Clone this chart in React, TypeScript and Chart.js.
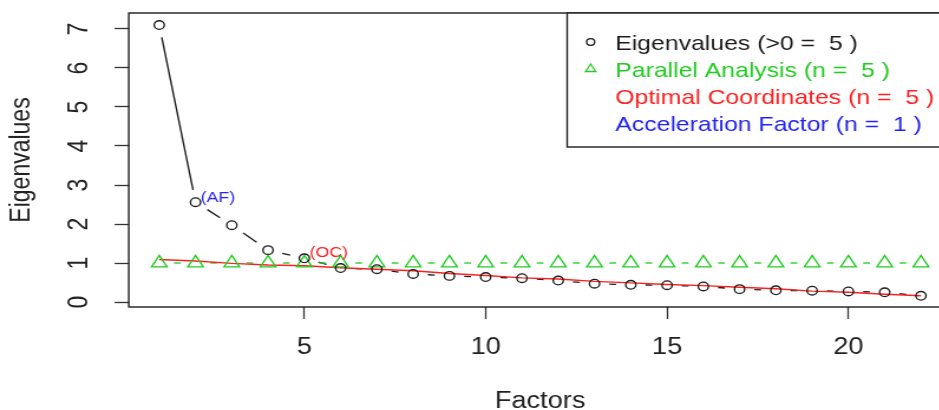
import React, { useEffect, useRef } from "react";
import { Chart, registerables } from "chart.js";

Chart.register(...registerables);

// ---- data ----
const factors = [1, 2, 3, 4, 5, 6, 7, 8, 9, 10, 11, 12, 13, 14, 15, 16, 17, 18, 19, 20, 21, 22];
const eigenvalues = [7.1, 2.56, 1.97, 1.33, 1.12, 0.87, 0.84, 0.72, 0.67, 0.64, 0.61, 0.55, 0.47, 0.44, 0.43, 0.4, 0.33, 0.3, 0.29, 0.27, 0.25, 0.16];
const parallelAnalysis = [1.0, 1.0, 1.0, 1.0, 1.0, 1.0, 1.0, 1.0, 1.0, 1.0, 1.0, 1.0, 1.0, 1.0, 1.0, 1.0, 1.0, 1.0, 1.0, 1.0, 1.0, 1.0];
const optimalCoordinates = [1.09, 1.05, 0.99, 0.95, 0.93, 0.88, 0.84, 0.8, 0.73, 0.68, 0.62, 0.59, 0.53, 0.49, 0.45, 0.42, 0.38, 0.34, 0.28, 0.25, 0.2, 0.16];
const xTicks = [5, 10, 15, 20];
const yTicks = [0, 1, 2, 3, 4, 5, 6, 7];
const legendLabels = [
  "Eigenvalues (>0 =  5 )",
  "Parallel Analysis (n =  5 )",
  "Optimal Coordinates (n =  5 )",
  "Acceleration Factor (n =  1 )",
];
const afLabel = "(AF)";
const afIndex = 1;
const ocLabel = "(OC)";
const ocIndex = 4;

// ---- style ----
const STRETCH = 1.18;
const W = 815;
const H = 410;
const FONT = '"Liberation Sans", Arial, sans-serif';
const BLACK = "#1c1c1c";
const GREEN = "#22cc22";
const RED = "#ff1f1f";
const BLUE = "#2424f0";

const gapLinesPlugin = {
  id: "gapLines",
  beforeDatasetsDraw(chart: any) {
    const { ctx, chartArea } = chart;
    ctx.save();
    ctx.beginPath();
    ctx.rect(chartArea.left, chartArea.top, chartArea.right - chartArea.left, chartArea.bottom - chartArea.top);
    ctx.clip();
    chart.data.datasets.forEach((ds: any, i: number) => {
      if (!ds.gapLine) return;
      const pts = chart.getDatasetMeta(i).data;
      ctx.strokeStyle = ds.borderColor;
      ctx.lineWidth = ds.gapLineWidth;
      for (let k = 0; k < pts.length - 1; k++) {
        const a = pts[k];
        const b = pts[k + 1];
        const dx = b.x - a.x;
        const dy = b.y - a.y;
        const d = Math.hypot(dx, dy);
        const g = ds.gap;
        if (d <= 2 * g) continue;
        const ux = dx / d;
        const uy = dy / d;
        ctx.beginPath();
        ctx.moveTo(a.x + ux * g, a.y + uy * g);
        ctx.lineTo(b.x - ux * g, b.y - uy * g);
        ctx.stroke();
      }
    });
    ctx.restore();
  },
};

const decorPlugin = {
  id: "decor",
  afterDraw(chart: any) {
    const { ctx, chartArea } = chart;
    ctx.save();
    // plot frame
    ctx.strokeStyle = BLACK;
    ctx.lineWidth = 1.4;
    ctx.strokeRect(chartArea.left, chartArea.top, chartArea.right - chartArea.left, chartArea.bottom - chartArea.top);

    // annotations
    const eig = chart.getDatasetMeta(0).data;
    ctx.font = `15px ${FONT}`;
    ctx.textBaseline = "middle";
    ctx.textAlign = "left";
    ctx.fillStyle = BLUE;
    ctx.fillText(afLabel, eig[afIndex].x + 4.4, eig[afIndex].y - 4);
    ctx.fillStyle = RED;
    ctx.fillText(ocLabel, eig[ocIndex].x + 4.4, eig[ocIndex].y - 5);

    // legend box
    const boxLeft = 480.5;
    const boxTop = chartArea.top;
    const boxBottom = 147;
    ctx.fillStyle = "#ffffff";
    ctx.fillRect(boxLeft, boxTop, chartArea.right - boxLeft, boxBottom - boxTop);
    ctx.strokeStyle = BLACK;
    ctx.lineWidth = 1.4;
    ctx.strokeRect(boxLeft, boxTop, chartArea.right - boxLeft, boxBottom - boxTop);

    const symX = 500.4;
    const textX = 521.2;
    const baselines = [50, 77, 104, 131];
    const colors = [BLACK, GREEN, RED, BLUE];
    // circle
    ctx.lineWidth = 1.3;
    ctx.strokeStyle = BLACK;
    ctx.beginPath();
    ctx.arc(symX, baselines[0] - 8, 3.4, 0, Math.PI * 2);
    ctx.stroke();
    // triangle
    const r = 5;
    const ty = baselines[1] - 8;
    ctx.strokeStyle = GREEN;
    ctx.beginPath();
    ctx.moveTo(symX, ty - r);
    ctx.lineTo(symX + r * Math.sin((2 * Math.PI) / 3), ty + r / 2);
    ctx.lineTo(symX - r * Math.sin((2 * Math.PI) / 3), ty + r / 2);
    ctx.closePath();
    ctx.stroke();

    ctx.font = `21px ${FONT}`;
    ctx.textBaseline = "alphabetic";
    legendLabels.forEach((t, i) => {
      ctx.fillStyle = colors[i];
      ctx.fillText(t, textX, baselines[i]);
    });
    ctx.restore();
  },
};

export default function App() {
  const canvasRef = useRef<HTMLCanvasElement | null>(null);

  useEffect(() => {
    const canvas = canvasRef.current;
    if (!canvas) return;
    const chart = new Chart(canvas, {
      type: "scatter",
      data: {
        datasets: [
          {
            label: "Eigenvalues",
            data: factors.map((f, i) => ({ x: f, y: eigenvalues[i] })),
            showLine: false,
            pointStyle: "circle",
            pointRadius: 4.3,
            pointBorderWidth: 1.35,
            borderColor: BLACK,
            pointBorderColor: BLACK,
            pointBackgroundColor: "rgba(0,0,0,0)",
            gapLine: true,
            gap: 12.5,
            gapLineWidth: 1.35,
          } as any,
          {
            label: "Parallel Analysis",
            data: factors.map((f, i) => ({ x: f, y: parallelAnalysis[i] })),
            showLine: false,
            pointStyle: "triangle",
            pointRadius: 7.6,
            pointBorderWidth: 1.35,
            borderColor: GREEN,
            pointBorderColor: GREEN,
            pointBackgroundColor: "rgba(0,0,0,0)",
            gapLine: true,
            gap: 12.5,
            gapLineWidth: 1.35,
          } as any,
          {
            label: "Optimal Coordinates",
            data: factors.map((f, i) => ({ x: f, y: optimalCoordinates[i] })),
            showLine: true,
            pointRadius: 0,
            borderColor: RED,
            borderWidth: 1.4,
            tension: 0,
          } as any,
        ],
      },
      options: {
        responsive: false,
        animation: false,
        devicePixelRatio: 1,
        events: [],
        layout: { padding: { top: 13, right: 8.8, bottom: 0, left: 0 } },
        plugins: { legend: { display: false }, tooltip: { enabled: false } },
        scales: {
          x: {
            type: "linear",
            min: 0.16,
            max: 22.84,
            afterBuildTicks: (s: any) => {
              s.ticks = xTicks.map((v) => ({ value: v }));
            },
            afterFit: (s: any) => {
              s.height = 103;
              s.paddingLeft = 0;
              s.paddingRight = 0;
            },
            grid: { display: true, drawOnChartArea: false, drawTicks: true, tickLength: 12, tickWidth: 1.3, tickColor: "#333" },
            border: { display: false },
            ticks: { autoSkip: false, maxRotation: 0, padding: 17, color: "#222", font: { family: FONT, size: 23, lineHeight: 1 } },
            title: { display: true, text: "Factors", color: "#222", font: { family: FONT, size: 23, lineHeight: 1 }, padding: { top: 0, bottom: -3 } },
          },
          y: {
            type: "linear",
            min: -0.128,
            max: 7.41,
            afterBuildTicks: (s: any) => {
              s.ticks = yTicks.map((v) => ({ value: v }));
            },
            afterFit: (s: any) => {
              s.width = 109.1;
              s.paddingTop = 0;
              s.paddingBottom = 0;
            },
            grid: { display: true, drawOnChartArea: false, drawTicks: true, tickLength: 12, tickWidth: 1.3, tickColor: "#333" },
            border: { display: false },
            ticks: { autoSkip: false, minRotation: 90, maxRotation: 90, crossAlign: "center", padding: 22.8, color: "#222", font: { family: FONT, size: 23, lineHeight: 1 } },
            title: { display: true, text: "Eigenvalues", color: "#222", font: { family: FONT, size: 23, lineHeight: 1 }, padding: { top: 7, bottom: 0 } },
          },
        },
      } as any,
      plugins: [gapLinesPlugin, decorPlugin],
    });
    return () => chart.destroy();
  }, []);

  return (
    <div style={{ position: "fixed", left: 0, top: 0, width: 939, height: 410, overflow: "hidden", background: "#fff" }}>
      <canvas ref={canvasRef} width={W} height={H} style={{ width: `${W * STRETCH}px`, height: `${H}px`, display: "block" }} />
    </div>
  );
}
